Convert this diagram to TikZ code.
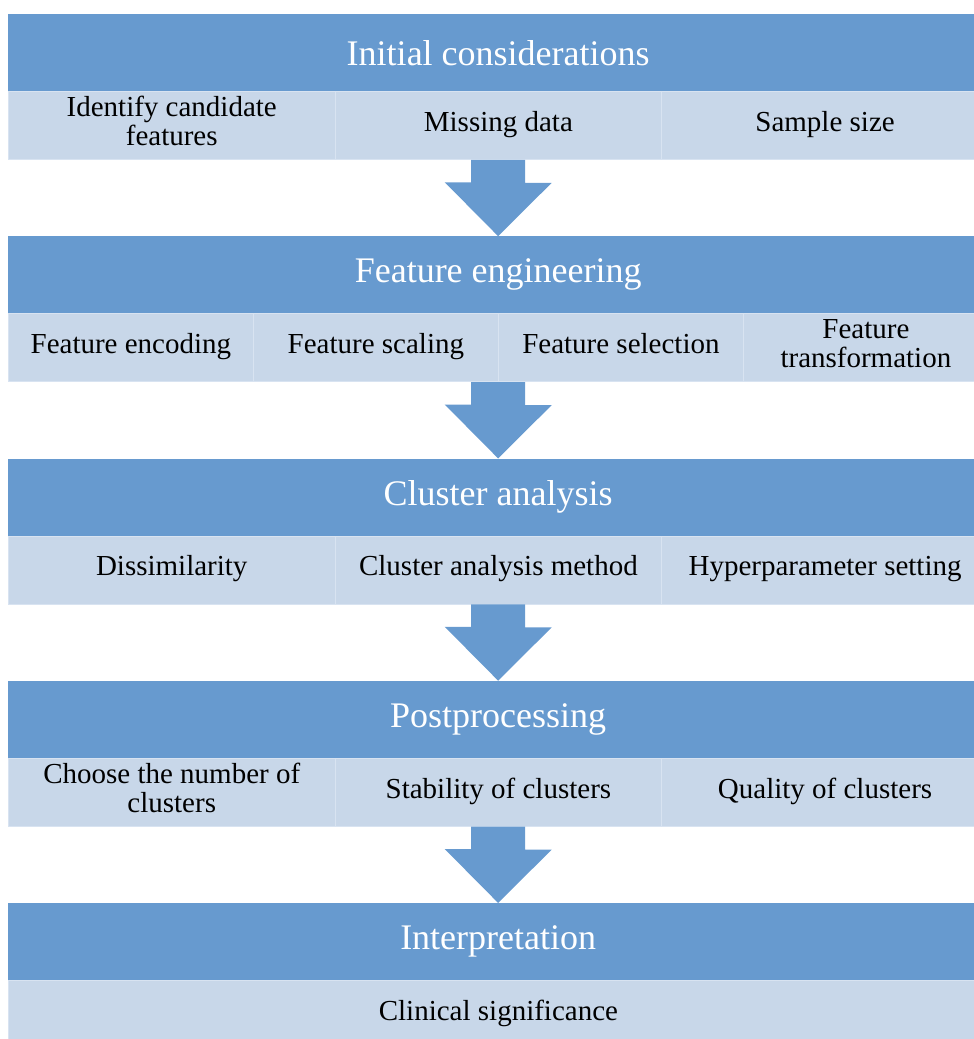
\documentclass[tikz,border=0pt]{standalone}
\usepackage{fontspec}
\setmainfont{Liberation Serif}
\usetikzlibrary{calc}
\definecolor{hdrblue}{RGB}{103,154,207}
\definecolor{cellblue}{RGB}{200,215,233}
\definecolor{cellline}{RGB}{216,227,241}
\begin{document}
\begin{tikzpicture}[x=1pt,y=-1pt,
  hdr/.style={fill=hdrblue, text=white, minimum width=980pt, minimum height=77pt,
    anchor=north west, inner sep=0pt, font=\fontsize{36}{40}\selectfont},
  cell/.style={fill=cellblue, draw=cellline, line width=0.8pt, minimum height=68pt,
    anchor=north west, inner sep=0pt, align=center, font=\fontsize{29}{29}\selectfont,
    execute at begin node=\strut, execute at end node=\strut},
  cthree/.style={cell, minimum width=326.67pt},
  cfour/.style={cell, minimum width=245pt},
  flowarrow/.style={fill=hdrblue}
]
\useasboundingbox (0,0) rectangle (974,1039);
\clip (0,0) rectangle (974,1039);

% Block 1
\node[hdr] (h1) at (8,14) {Initial considerations};
\node[cthree] (c11) at (8,91) {Identify candidate\\features};
\node[cthree] (c12) at (334.67,91) {Missing data};
\node[cthree] (c13) at (661.33,91) {Sample size};

% Block 2
\node[hdr] (h2) at (8,236.25) {Feature engineering};
\node[cfour] (c21) at (8,313.25) {Feature encoding};
\node[cfour] (c22) at (253,313.25) {Feature scaling};
\node[cfour] (c23) at (498,313.25) {Feature selection};
\node[cfour] (c24) at (743,313.25) {Feature\\transformation};

% Block 3
\node[hdr] (h3) at (8,458.5) {Cluster analysis};
\node[cthree] (c31) at (8,535.5) {Dissimilarity};
\node[cthree] (c32) at (334.67,535.5) {Cluster analysis method};
\node[cthree] (c33) at (661.33,535.5) {Hyperparameter setting};

% Block 4
\node[hdr] (h4) at (8,680.75) {Postprocessing};
\node[cthree] (c41) at (8,757.75) {Choose the number of\\clusters};
\node[cthree] (c42) at (334.67,757.75) {Stability of clusters};
\node[cthree] (c43) at (661.33,757.75) {Quality of clusters};

% Block 5
\node[hdr] (h5) at (8,903) {Interpretation};
\node[cell, minimum width=980pt] (c51) at (8,980) {Clinical significance};

% Block arrows
\foreach \a/\b in {c12/h2, c22/h3, c32/h4, c42/h5}{
  \fill[flowarrow] (\b.north |- \a.south) ++(-27,0) -- ++(54,0) -- ++(0,23)
    -- ++(26.5,0) -- (\b.north) -- ++(-53.5,-54) -- ++(26.5,0) -- cycle;
}
\end{tikzpicture}
\end{document}
